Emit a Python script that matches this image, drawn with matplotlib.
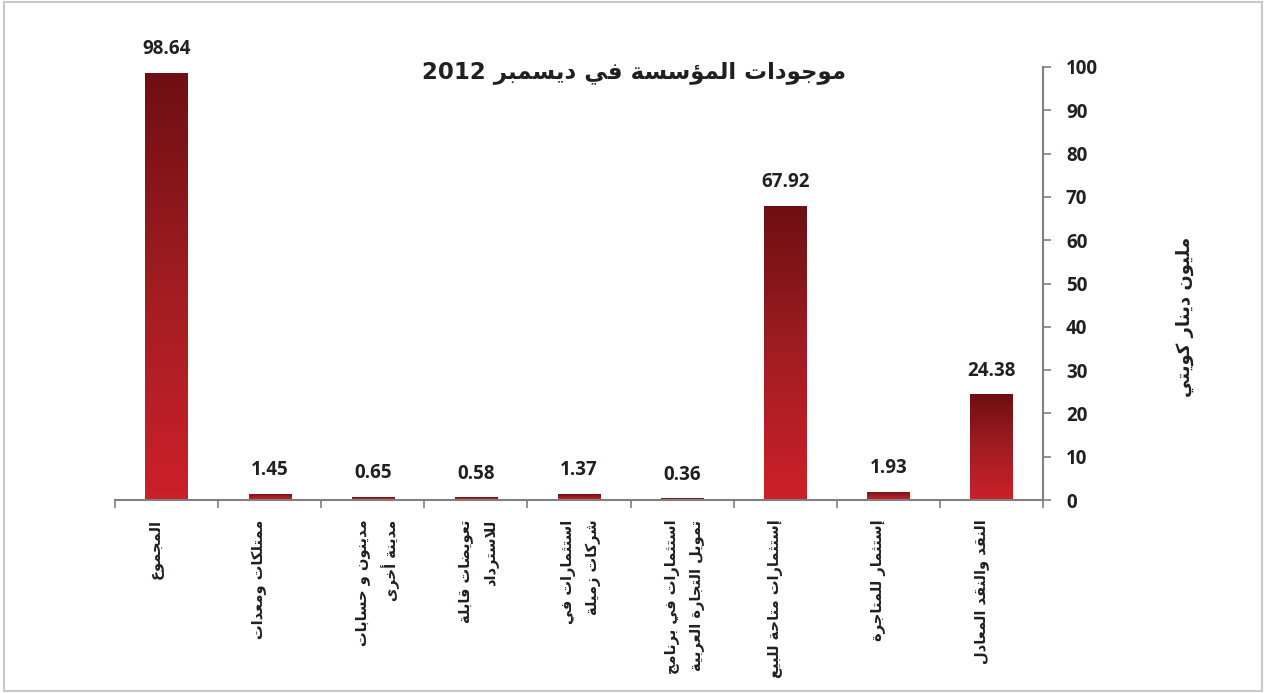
import re
import numpy as np
import matplotlib
matplotlib.use("Agg")
import matplotlib.pyplot as plt
from matplotlib.colors import LinearSegmentedColormap
from matplotlib.patches import Rectangle

# ---------------- data ----------------
title = "موجودات المؤسسة في ديسمبر 2012"
y_label = "مليون دينار كويتي"
categories = [
    "المجموع",
    "ممتلكات ومعدات",
    "مدينون و حسابات\nمدينة أخرى",
    "تعويضات قابلة\nللاسترداد",
    "استثمارات في\nشركات زميلة",
    "استثمارات في برنامج\nتمويل التجارة العربية",
    "إستثمارات متاحة للبيع",
    "إستثمار للمتاجرة",
    "النقد والنقد المعادل",
]
values = [98.64, 1.45, 0.65, 0.58, 1.37, 0.36, 67.92, 1.93, 24.38]
value_labels = ["98.64", "1.45", "0.65", "0.58", "1.37", "0.36", "67.92", "1.93", "24.38"]
y_ticks = [0, 10, 20, 30, 40, 50, 60, 70, 80, 90, 100]

# ---------------- minimal Arabic shaping (presentation forms + visual order) ----------------
_R = {0x0622: 0xFE81, 0x0623: 0xFE83, 0x0624: 0xFE85, 0x0625: 0xFE87, 0x0627: 0xFE8D,
      0x0629: 0xFE93, 0x062F: 0xFEA9, 0x0630: 0xFEAB, 0x0631: 0xFEAD, 0x0632: 0xFEAF,
      0x0648: 0xFEED, 0x0649: 0xFEEF}
_D = {0x0626: 0xFE89, 0x0628: 0xFE8F, 0x062A: 0xFE95, 0x062B: 0xFE99, 0x062C: 0xFE9D,
      0x062D: 0xFEA1, 0x062E: 0xFEA5, 0x0633: 0xFEB1, 0x0634: 0xFEB5, 0x0635: 0xFEB9,
      0x0636: 0xFEBD, 0x0637: 0xFEC1, 0x0638: 0xFEC5, 0x0639: 0xFEC9, 0x063A: 0xFECD,
      0x0641: 0xFED1, 0x0642: 0xFED5, 0x0643: 0xFED9, 0x0644: 0xFEDD, 0x0645: 0xFEE1,
      0x0646: 0xFEE5, 0x0647: 0xFEE9, 0x064A: 0xFEF1}
_LAMALEF = {0x0622: 0xFEF5, 0x0623: 0xFEF7, 0x0625: 0xFEF9, 0x0627: 0xFEFB}


def _units(line):
    units = []
    i = 0
    while i < len(line):
        c = ord(line[i])
        if c == 0x0644 and i + 1 < len(line) and ord(line[i + 1]) in _LAMALEF:
            b = _LAMALEF[ord(line[i + 1])]
            units.append(("R", b, b + 1, None, None, None))
            i += 2
            continue
        if c in _R:
            b = _R[c]
            units.append(("R", b, b + 1, None, None, None))
        elif c in _D:
            b = _D[c]
            units.append(("D", b, b + 1, b + 2, b + 3, None))
        elif c == 0x0621:
            units.append(("U", 0xFE80, None, None, None, None))
        else:
            units.append(("U", None, None, None, None, line[i]))
        i += 1
    return units


def _shape_line(line):
    units = _units(line)
    n = len(units)
    chars = []
    for k, u in enumerate(units):
        if u[5] is not None:
            chars.append(u[5])
            continue
        jp = k > 0 and units[k - 1][0] == "D" and u[0] in "DR"
        jn = k < n - 1 and u[0] == "D" and units[k + 1][0] in "DR"
        if jp and jn:
            cp = u[4]
        elif jp:
            cp = u[2]
        elif jn:
            cp = u[3]
        else:
            cp = u[1]
        chars.append(chr(cp))
    s = "".join(chars)
    tokens = re.findall(r"[0-9][0-9.,]*|.", s)
    return "".join(tokens[::-1])


def ar(text):
    return "\n".join(_shape_line(l) for l in text.split("\n"))


# ---------------- figure ----------------
W, H, DPI = 1266, 693, 100
fig = plt.figure(figsize=(W / DPI, H / DPI), dpi=DPI)
plt.rcParams["font.family"] = ["DejaVu Sans"]

fig.patches.append(Rectangle((4 / W, 2 / H), (1262 - 4) / W, (691 - 2) / H,
                             transform=fig.transFigure, fill=False,
                             edgecolor="#c9c9c9", linewidth=1.5))

ax_l, ax_r, ax_b, ax_t = 115, 1043, 500, 67
ax = fig.add_axes([ax_l / W, 1 - ax_b / H, (ax_r - ax_l) / W, (ax_b - ax_t) / H])

x = np.arange(len(categories))
bars = ax.bar(x, values, width=0.41, color="none", edgecolor="none", zorder=2)

cmap = LinearSegmentedColormap.from_list("redgrad", ["#cd2029", "#a11d22", "#6d0f12"])
grad = np.linspace(0, 1, 256).reshape(-1, 1)
for b in bars:
    x0, w, h = b.get_x(), b.get_width(), b.get_height()
    im = ax.imshow(grad, extent=[x0, x0 + w, 0, h], origin="lower", cmap=cmap,
                   aspect="auto", zorder=2, interpolation="bicubic")
    im.set_clip_path(b)

for xi, v, lab in zip(x, values, value_labels):
    ax.annotate(lab, (xi, v), xytext=(0, 10), textcoords="offset points",
                ha="center", va="bottom", fontsize=13.5, fontweight="bold",
                color="#231f20", family="Open Sans")

ax.set_xlim(-0.5, len(categories) - 0.5)
ax.set_ylim(0, 100)

for s in ["left", "top"]:
    ax.spines[s].set_visible(False)
for s in ["right", "bottom"]:
    ax.spines[s].set_color("#808080")
    ax.spines[s].set_linewidth(1.5)

ax.yaxis.tick_right()
ax.set_yticks(y_ticks)
ax.set_yticklabels([str(t) for t in y_ticks], fontsize=13.5, fontweight="bold",
                   color="#231f20", family="Open Sans")
ax.tick_params(axis="y", direction="out", length=5.5, width=1.2, color="#808080", pad=11)

ax.set_xticks(np.arange(-0.5, len(categories), 1.0))
ax.set_xticklabels([])
ax.tick_params(axis="x", direction="out", length=6, width=1.2, color="#808080")

for xi, cat in zip(x, categories):
    ax.text(xi - 0.17, -4.5, ar(cat), rotation=90, ha="left", va="top",
            rotation_mode="default", multialignment="right",
            fontsize=10.5, fontweight="bold", color="#231f20", linespacing=1.75)

fig.text(634 / W, 1 - 72 / H, ar(title), ha="center", va="center",
         fontsize=16.5, fontweight="bold", color="#231f20")
fig.text(1185 / W, 1 - 317 / H, ar(y_label), ha="center", va="center", rotation=90,
         fontsize=13, fontweight="bold", color="#231f20")

fig.savefig("out.png", dpi=DPI)
